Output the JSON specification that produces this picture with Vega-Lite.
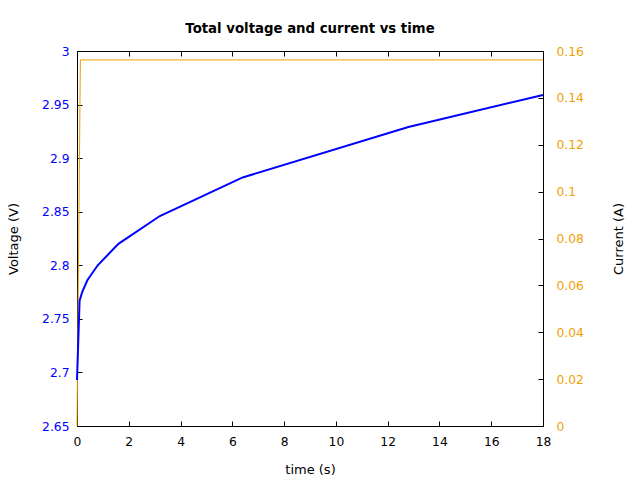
{
  "$schema": "https://vega.github.io/schema/vega-lite/v6.json",
  "width": 466,
  "height": 375,
  "autosize": {"type": "none"},
  "padding": {"left": 77, "top": 51, "right": 97, "bottom": 54},
  "background": "white",
  "title": {
    "text": "Total voltage and current vs time",
    "font": "DejaVu Sans",
    "fontSize": 13.3,
    "fontWeight": "bold",
    "color": "black",
    "anchor": "middle",
    "frame": "group",
    "offset": 10
  },
  "config": {
    "view": {"stroke": "black", "strokeWidth": 1},
    "axis": {
      "labelFont": "DejaVu Sans",
      "labelFontSize": 12.3,
      "titleFont": "DejaVu Sans",
      "titleFontSize": 13,
      "titleFontWeight": "normal",
      "titleColor": "black",
      "grid": false,
      "domain": false,
      "tickColor": "black",
      "tickWidth": 1,
      "tickSize": -5
    }
  },
  "datasets": {
    "voltage": [
      {"time": 0, "voltage": 2.693},
      {"time": 0.1, "voltage": 2.767},
      {"time": 0.2, "voltage": 2.775},
      {"time": 0.4, "voltage": 2.786},
      {"time": 0.8, "voltage": 2.8},
      {"time": 1.6, "voltage": 2.82},
      {"time": 3.2, "voltage": 2.846},
      {"time": 6.4, "voltage": 2.882},
      {"time": 12.8, "voltage": 2.929},
      {"time": 18, "voltage": 2.959}
    ],
    "current": [
      {"time": 0, "current": 0},
      {"time": 0.13, "current": 0.1562},
      {"time": 18, "current": 0.1562}
    ]
  },
  "layer": [
    {
      "data": {"name": "current"},
      "mark": {"type": "line", "color": "#e69f00", "strokeWidth": 1},
      "encoding": {
        "x": {
          "field": "time", "type": "quantitative",
          "scale": {"domain": [0, 18], "nice": false, "zero": false},
          "axis": {"orient": "top", "labels": false, "title": null, "values": [0, 2, 4, 6, 8, 10, 12, 14, 16, 18]}
        },
        "y": {
          "field": "current", "type": "quantitative",
          "scale": {"domain": [0, 0.16], "nice": false},
          "axis": {
            "orient": "right",
            "values": [0, 0.02, 0.04, 0.06, 0.08, 0.1, 0.12, 0.14, 0.16],
            "labelExpr": "datum.value == 0 ? '0' : format(datum.value, '.2~f')",
            "labelColor": "#f0a000",
            "labelPadding": 18,
            "labelAlign": "left",
            "title": "Current (A)",
            "titleAngle": 270,
            "titleBaseline": "middle",
            "titleX": 75
          }
        }
      }
    },
    {
      "data": {"name": "voltage"},
      "mark": {"type": "line", "color": "#0000ff", "strokeWidth": 2},
      "encoding": {
        "x": {
          "field": "time", "type": "quantitative",
          "scale": {"domain": [0, 18], "nice": false, "zero": false},
          "axis": {
            "orient": "bottom",
            "values": [0, 2, 4, 6, 8, 10, 12, 14, 16, 18],
            "labelColor": "black",
            "labelPadding": 14,
            "labelFlush": false,
            "title": "time (s)",
            "titleBaseline": "middle",
            "titleY": 43
          }
        },
        "y": {
          "field": "voltage", "type": "quantitative",
          "scale": {"domain": [2.65, 3.0], "nice": false, "zero": false},
          "axis": {
            "orient": "left",
            "values": [2.65, 2.7, 2.75, 2.8, 2.85, 2.9, 2.95, 3.0],
            "labelExpr": "format(datum.value, '.2~f')",
            "labelColor": "#0000ff",
            "labelPadding": 13,
            "labelFlush": false,
            "title": "Voltage (V)",
            "titleAngle": 270,
            "titleBaseline": "middle",
            "titleX": -64
          }
        }
      }
    }
  ],
  "resolve": {"scale": {"y": "independent"}, "axis": {"x": "independent"}}
}
